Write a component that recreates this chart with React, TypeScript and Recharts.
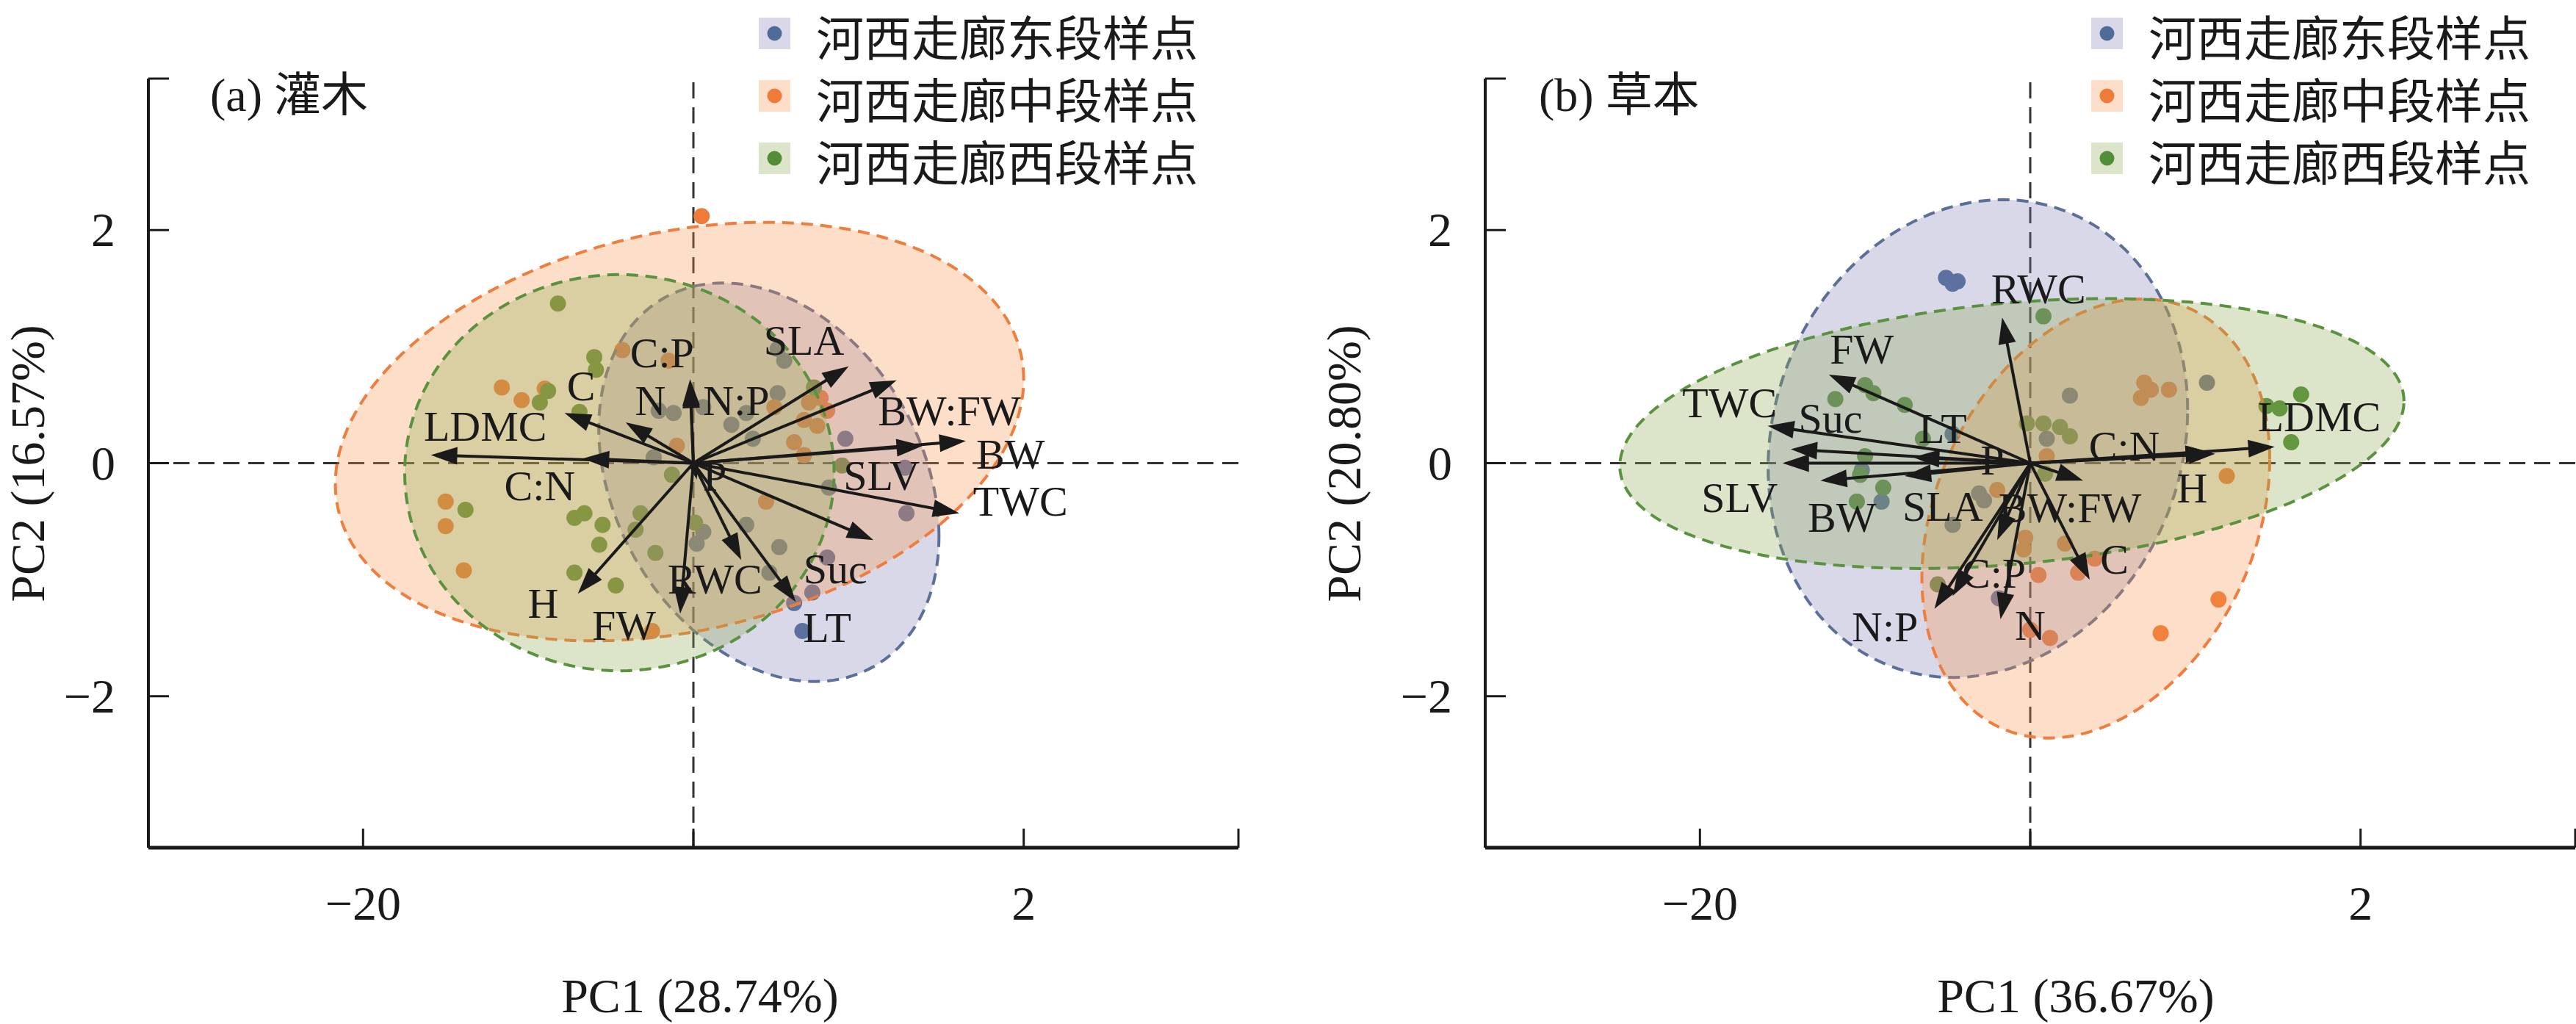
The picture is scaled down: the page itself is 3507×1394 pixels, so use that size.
import React from 'react';
import { ScatterChart, Scatter, XAxis, YAxis, ReferenceLine, ReferenceArea, Legend } from 'recharts';

const SERIF = "'Liberation Serif', 'Times New Roman', 'Noto Sans CJK SC', serif";
const CJK = "'Noto Sans CJK SC', 'Liberation Serif', sans-serif";
const INK = '#1a1a1a';

// groups: east, middle, west
const groupNames = ['河西走廊东段样点', '河西走廊中段样点', '河西走廊西段样点'];
const pointColors = ['#4E6C97', '#EE7B3A', '#528E39'];
const ellipseFills = ['#807DB6', '#F89148', '#8AA84E'];
const ellipseStrokes = ['#5C6F97', '#EF7D3D', '#5B923F'];
const legendSwatches = ['#D9D8E9', '#FDDEC8', '#DCE5CA'];

const axisTicks = [-3.3, -2, 0, 2, 3.3];
const xTickLabels: Record<string, string> = { '-2': '−20', '2': '2' };
const yTickLabels: Record<string, string> = { '-2': '−2', '0': '0', '2': '2' };

// ---------- (a) shrubs ----------
const shrubEast = [
  [0.51, 0.98], [0.55, 0.88], [-0.21, 0.45], [-0.12, 0.43], [0.06, 0.48], [0.51, 0.6],
  [0.32, 0.43], [0.23, 0.33], [0.36, 0.21], [-0.24, 0.05], [0.92, 0.21], [1.28, -0.04],
  [0.82, -0.21], [1.29, -0.43], [0.06, -0.59], [0.02, -0.69], [0.32, -0.53], [0.52, -0.72],
  [0.46, -0.94], [0.81, -0.81], [0.72, -1.11], [0.61, -1.2], [0.66, -1.44],
];
const shrubMiddle = [
  [0.05, 2.12], [-0.43, 0.97], [-0.15, 0.88], [-1.16, 0.65], [-1.04, 0.54], [-0.9, 0.64],
  [0.7, 0.52], [0.81, 0.45], [0.67, 0.37], [0.75, 0.32], [0.49, 0.48], [-0.1, 0.15],
  [0.61, 0.18], [0.67, 0.07], [-1.5, -0.33], [-1.5, -0.54], [-1.39, -0.92], [0.44, -0.33],
  [-0.25, -1.44], [0.77, 0.56],
];
const shrubWest = [
  [-0.82, 1.37], [-0.6, 0.91], [-0.59, 0.8], [-0.88, 0.62], [-0.93, 0.52], [-0.69, 0.44],
  [0.73, 0.65], [-0.13, -0.1], [0.9, -0.02], [-1.38, -0.4], [-0.72, -0.47], [-0.66, -0.43],
  [-0.55, -0.53], [-0.57, -0.7], [-0.32, -0.43], [-0.35, -0.57], [-0.23, -0.77], [0.01, -0.51],
  [-0.72, -0.94], [-0.47, -1.05],
];
// ellipse: [centerX, centerY, halfWidth, halfHeight, correlation] (east, middle, west)
const shrubEllipses = [
  [0.457, -0.164, 1.03, 1.71, -0.27],
  [-0.084, 0.271, 2.084, 1.796, 0.25],
  [-0.448, -0.082, 1.3, 1.7, 0.0],
];
const shrubLoadings = [
  ['LDMC', -1.59, 0.07], ['C:N', -0.67, 0.04], ['C', -0.78, 0.43], ['N', -0.41, 0.35],
  ['C:P', -0.02, 0.72], ['N:P', -0.02, 0.7], ['P', 0.02, -0.14], ['SLA', 0.94, 0.83],
  ['BW:FW', 1.23, 0.71], ['BW', 1.65, 0.19], ['SLV', 1.39, 0.15], ['TWC', 1.61, -0.43],
  ['Suc', 1.09, -0.66], ['LT', 0.62, -1.19], ['RWC', 0.29, -0.83], ['FW', -0.08, -1.29],
  ['H', -0.7, -1.12],
];
const shrubLabelPos = [
  ['LDMC', -1.26, 0.32], ['C:N', -0.93, -0.19], ['C', -0.68, 0.67], ['N', -0.26, 0.54],
  ['C:P', -0.19, 0.95], ['N:P', 0.26, 0.54], ['P', 0.13, -0.11], ['SLA', 0.67, 1.06],
  ['BW:FW', 1.55, 0.45], ['BW', 1.92, 0.08], ['SLV', 1.14, -0.1], ['TWC', 1.98, -0.32],
  ['Suc', 0.86, -0.9], ['LT', 0.81, -1.41], ['RWC', 0.13, -0.99], ['FW', -0.42, -1.39],
  ['H', -0.91, -1.2],
];

// ---------- (b) herbs ----------
const herbEast = [
  [-0.51, 1.59], [-0.44, 1.56], [-0.47, 1.54], [0.24, 0.58], [1.07, 0.69], [0.1, 0.21],
  [-0.47, 0.25], [-1.02, -0.06], [-0.9, -0.33], [-0.31, -0.26], [-0.28, -0.32], [-0.47, -0.53],
  [-0.19, -1.16],
];
const herbMiddle = [
  [0.69, 0.69], [0.73, 0.63], [0.67, 0.56], [0.84, 0.63], [0.1, 0.06], [-0.2, -0.23],
  [1.19, -0.11], [-0.03, -0.64], [0.21, -0.69], [-0.04, -0.74], [0.05, -0.96], [0.29, -0.94],
  [0.39, -0.82], [1.14, -1.17], [0.79, -1.46], [0.0, -1.43], [0.12, -1.5],
];
const herbWest = [
  [0.08, 1.26], [-1.18, 0.55], [-1.0, 0.67], [-0.95, 0.6], [-0.76, 0.5], [-0.65, 0.21],
  [-1.0, 0.06], [-1.03, -0.1], [-0.89, -0.21], [-1.05, -0.33], [-0.02, 0.34], [0.08, 0.34],
  [0.18, 0.31], [0.24, 0.23], [0.09, -0.09], [1.64, 0.59], [1.51, 0.47], [1.43, 0.49],
  [1.58, 0.18], [-0.56, -1.04],
];
const herbEllipses = [
  [-0.317, 0.211, 1.27, 2.05, 0.12],
  [0.397, -0.475, 1.053, 1.884, 0.27],
  [-0.111, 0.254, 2.374, 1.158, 0.24],
];
const herbLoadings = [
  ['RWC', -0.17, 1.25], ['FW', -1.22, 0.76], ['TWC', -1.59, 0.32], ['Suc', -1.45, 0.12],
  ['SLV', -1.5, 0.0], ['BW', -1.27, -0.15], ['LT', -0.71, 0.05], ['SLA', -0.76, -0.11],
  ['P', -0.2, -0.66], ['C:P', -0.47, -1.14], ['N:P', -0.58, -1.25], ['N', -0.18, -1.34],
  ['C', 0.36, -1.0], ['BW:FW', 0.32, -0.15], ['H', 1.12, 0.08], ['C:N', 1.1, 0.09],
  ['LDMC', 1.48, 0.14],
];
const herbLabelPos = [
  ['RWC', 0.05, 1.5], ['FW', -1.02, 0.98], ['TWC', -1.82, 0.52], ['Suc', -1.21, 0.39],
  ['LT', -0.53, 0.3], ['P', -0.23, 0.03], ['C:N', 0.57, 0.15], ['LDMC', 1.75, 0.4],
  ['H', 0.98, -0.21], ['SLV', -1.76, -0.29], ['BW', -1.14, -0.46], ['SLA', -0.53, -0.37],
  ['BW:FW', 0.24, -0.38], ['C', 0.51, -0.82], ['C:P', -0.22, -0.94], ['N:P', -0.88, -1.4],
  ['N', 0.0, -1.39],
];

const toPts = (arr: number[][]) => arr.map(([x, y]) => ({ x, y }));
const toNamed = (arr: any[][]) => arr.map(([name, x, y]) => ({ name, x, y }));

const dotShape = (color: string) => (p: any) =>
  p.cx == null ? <g /> : <circle cx={p.cx} cy={p.cy} r={11} fill={color} />;

const labelShape = (p: any) =>
  p.cx == null ? <g /> : (
    <text x={p.cx} y={p.cy} dy="0.35em" textAnchor="middle" fontFamily={SERIF} fontSize={58} fill={INK}>
      {p.payload?.name}
    </text>
  );

const ellipseShape = (rho: number, fill: string, stroke: string) => (p: any) => {
  const { x, y, width, height } = p;
  const cx = x + width / 2;
  const cy = y + height / 2;
  const W = Math.abs(width) / 2;
  const H = Math.abs(height) / 2;
  const phi = Math.acos(rho);
  let d = '';
  const n = 160;
  for (let i = 0; i <= n; i++) {
    const t = (i / n) * Math.PI * 2;
    const px = cx + W * Math.cos(t);
    const py = cy - H * Math.cos(t - phi);
    d += (i ? 'L' : 'M') + px.toFixed(2) + ',' + py.toFixed(2);
  }
  d += 'Z';
  return (
    <path d={d} fill={fill} fillOpacity={0.3} stroke={stroke} strokeWidth={4} strokeDasharray="16 10" />
  );
};

const arrowShape = (p: any) => {
  const { x1, y1, x2, y2 } = p;
  if ([x1, y1, x2, y2].some((v) => v == null || isNaN(v))) return <g />;
  const dx = x2 - x1;
  const dy = y2 - y1;
  const len = Math.hypot(dx, dy) || 1;
  const ux = dx / len;
  const uy = dy / len;
  const hl = Math.min(36, len * 0.85);
  const hw = hl / 3;
  const bx = x2 - ux * hl;
  const by = y2 - uy * hl;
  const pts = `${x2},${y2} ${bx - uy * hw},${by + ux * hw} ${bx + uy * hw},${by - ux * hw}`;
  return (
    <g>
      <line x1={x1} y1={y1} x2={bx + ux * 2} y2={by + uy * 2} stroke={INK} strokeWidth={4} />
      <polygon points={pts} fill={INK} />
    </g>
  );
};

const XTick = (p: any) => {
  const { x, y, payload } = p;
  const lab = xTickLabels[String(payload.value)];
  return (
    <g>
      <line x1={x} y1={y} x2={x} y2={y - 26} stroke={INK} strokeWidth={3} />
      {lab ? (
        <text x={x} y={y + 98} textAnchor="middle" fontFamily={SERIF} fontSize={66} fill={INK}>
          {lab}
        </text>
      ) : null}
    </g>
  );
};

const YTick = (p: any) => {
  const { x, y, payload } = p;
  const lab = yTickLabels[String(payload.value)];
  return (
    <g>
      <line x1={x} y1={y} x2={x + 28} y2={y} stroke={INK} strokeWidth={3} />
      {lab ? (
        <text x={x - 45} y={y + 22} textAnchor="end" fontFamily={SERIF} fontSize={66} fill={INK}>
          {lab}
        </text>
      ) : null}
    </g>
  );
};

const LegendBox = () => (
  <svg width={720} height={300} style={{ display: 'block', overflow: 'visible' }}>
    {groupNames.map((n, i) => (
      <g key={n}>
        <rect x={0} y={24 + 85 * i} width={43} height={43} fill={legendSwatches[i]} />
        <circle cx={21.5} cy={45.5 + 85 * i} r={10} fill={pointColors[i]} />
        <text x={78} y={76 + 85 * i} fontFamily={CJK} fontSize={65} fill={INK}>
          {n}
        </text>
      </g>
    ))}
  </svg>
);

type PanelProps = {
  width: number;
  marginLeft: number;
  marginRight: number;
  groups: number[][][];
  ellipses: number[][];
  loadings: any[][];
  labels: any[][];
  xTitle: string;
  yTitle: string;
  panelTitle: string;
  xTitleX: number;
  yTitleX: number;
  panelTitleX: number;
  legendLeft: number;
};

function PcaPanel(props: PanelProps) {
  const {
    width, marginLeft, marginRight, groups, ellipses, loadings, labels,
    xTitle, yTitle, panelTitle, xTitleX, yTitleX, panelTitleX, legendLeft,
  } = props;
  const plotMidY = 631;
  return (
    <ScatterChart
      width={width}
      height={1394}
      margin={{ top: 107, right: marginRight, bottom: 180, left: marginLeft }}
      style={{ fontFamily: SERIF }}
    >
      <XAxis
        type="number"
        dataKey="x"
        domain={[-3.3, 3.3]}
        allowDataOverflow
        ticks={axisTicks}
        interval={0}
        tickSize={0}
        tickMargin={0}
        tickLine={false}
        tick={XTick}
        height={60}
        axisLine={{ stroke: INK, strokeWidth: 5 }}
        label={{
          content: () => (
            <text x={xTitleX} y={1378} textAnchor="middle" fontFamily={SERIF} fontSize={66} fill={INK}>
              {xTitle}
            </text>
          ),
        }}
      />
      <YAxis
        type="number"
        dataKey="y"
        domain={[-3.3, 3.3]}
        allowDataOverflow
        ticks={axisTicks}
        interval={0}
        tickSize={0}
        tickMargin={0}
        tickLine={false}
        tick={YTick}
        width={60}
        axisLine={{ stroke: INK, strokeWidth: 4 }}
        label={{
          content: () => (
            <g>
              <text
                transform={`translate(${yTitleX}, ${plotMidY}) rotate(-90)`}
                textAnchor="middle"
                fontFamily={SERIF}
                fontSize={66}
                fill={INK}
              >
                {yTitle}
              </text>
              <text x={panelTitleX} y={151} fontFamily={SERIF} fontSize={64} fill={INK}>
                {panelTitle}
              </text>
            </g>
          ),
        }}
      />
      <ReferenceLine x={0} stroke="#333" strokeWidth={3} strokeDasharray="22 12" zIndex={100} />
      <ReferenceLine y={0} stroke="#333" strokeWidth={3} strokeDasharray="22 12" zIndex={100} />
      {groups.map((g, i) => (
        <Scatter
          key={'pts' + i}
          name={groupNames[i]}
          data={toPts(g)}
          shape={dotShape(pointColors[i])}
          isAnimationActive={false}
          zIndex={600}
        />
      ))}
      {ellipses.map(([cx, cy, rx, ry, rho], i) => (
        <ReferenceArea
          key={'ell' + i}
          x1={cx - rx}
          x2={cx + rx}
          y1={cy - ry}
          y2={cy + ry}
          ifOverflow="visible"
          shape={ellipseShape(rho, ellipseFills[i], ellipseStrokes[i])}
          zIndex={700}
        />
      ))}
      {toNamed(loadings).map((a) => (
        <ReferenceLine
          key={'arr' + a.name}
          segment={[{ x: 0, y: 0 }, { x: a.x, y: a.y }]}
          ifOverflow="visible"
          shape={arrowShape}
          zIndex={800}
        />
      ))}
      <Scatter
        name="labels"
        data={toNamed(labels)}
        shape={labelShape}
        isAnimationActive={false}
        legendType="none"
        zIndex={900}
      />
      <Legend
        layout="vertical"
        align="center"
        verticalAlign="middle"
        wrapperStyle={{ left: legendLeft, top: 0, width: 720, height: 300 }}
        content={() => <LegendBox />}
      />
    </ScatterChart>
  );
}

export default function App() {
  return (
    <div
      style={{
        position: 'absolute',
        left: 0,
        top: 0,
        width: 3507,
        height: 1394,
        background: '#fff',
        display: 'flex',
        flexDirection: 'row',
      }}
    >
      <PcaPanel
        width={1754}
        marginLeft={142}
        marginRight={68}
        groups={[shrubEast, shrubMiddle, shrubWest]}
        ellipses={shrubEllipses}
        loadings={shrubLoadings}
        labels={shrubLabelPos}
        xTitle="PC1 (28.74%)"
        yTitle="PC2 (16.57%)"
        panelTitle="(a) 灌木"
        xTitleX={953}
        yTitleX={60}
        panelTitleX={286}
        legendLeft={1033}
      />
      <PcaPanel
        width={1753}
        marginLeft={208}
        marginRight={1}
        groups={[herbEast, herbMiddle, herbWest]}
        ellipses={herbEllipses}
        loadings={herbLoadings}
        labels={herbLabelPos}
        xTitle="PC1 (36.67%)"
        yTitle="PC2 (20.80%)"
        panelTitle="(b) 草本"
        xTitleX={1072}
        yTitleX={98}
        panelTitleX={341}
        legendLeft={1093}
      />
    </div>
  );
}
